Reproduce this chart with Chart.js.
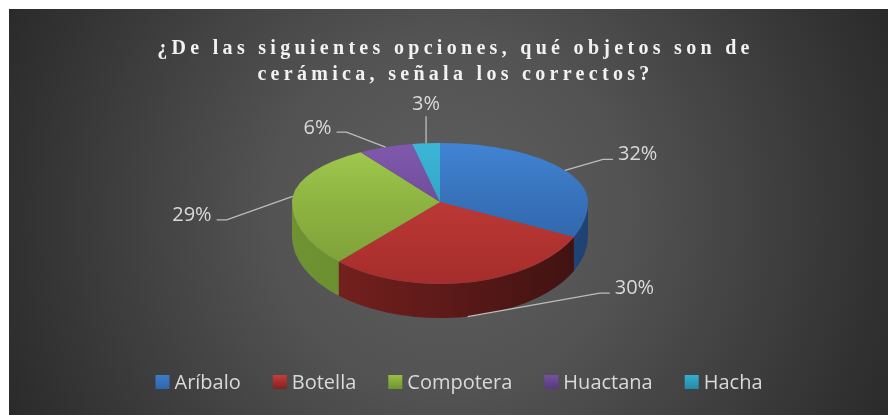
<!DOCTYPE html>
<html><head><meta charset="utf-8">
<script src="https://cdn.jsdelivr.net/npm/chart.js@4"></script>
<style>html,body{margin:0;padding:0;background:#fff;overflow:hidden}#wrap{position:absolute;left:0;top:0;width:888px;height:415px}</style>
</head><body><div id="wrap"><canvas id="c" width="888" height="415"></canvas></div>
<script>
// ---- data ----
const categories = ['Aríbalo', 'Botella', 'Compotera', 'Huactana', 'Hacha'];
const percentages = [32, 30, 29, 6, 3];
const titleLines = ['¿De las siguientes opciones, qué objetos son de', 'cerámica, señala los correctos?'];

// ---- styles ----
const topColors = [['#4184d4', '#2c5e9f'], ['#d2433f', '#a52d2b'], ['#a2cb4e', '#7a9c36'], ['#8059ad', '#62408a'], ['#3cb6d8', '#2a93b4']];
const sideColors = [['#2f66ac', '#1f4274'], ['#7e2220', '#3d1211'], ['#6f9332', '#5e7e2a'], ['#553a78', '#3e2a58'], ['#238aa8', '#1b6a82']];
const legendColors = ['#3d7cc9', '#c93c39', '#98c047', '#7651a3', '#37aed0'];
const TILT_BACK = 59 / 148;   // vertical squash of the far half of the pie top
const TILT_FRONT = 82 / 148;  // vertical squash of the near half (fake perspective)
const DEPTH = 34;             // thickness of the pie
// label leader offsets from slice anchor: [dx, dy, side]
const labelLayout = [[48, -11, 'r'], [142, -23.5, 'r'], [-76, 23.5, 'l'], [-49, -15, 'l'], [0, -27, 't']];

const bgPlugin = {
  id: 'bg',
  beforeDraw(chart) {
    const ctx = chart.ctx;
    ctx.save();
    ctx.fillStyle = '#ffffff';
    ctx.fillRect(0, 0, chart.width, chart.height);
    const g = ctx.createRadialGradient(448, 212, 0, 448, 212, 500);
    g.addColorStop(0, '#5e5e5e');
    g.addColorStop(0.35, '#535353');
    g.addColorStop(1, '#282828');
    ctx.fillStyle = g;
    ctx.fillRect(9, 9, chart.width - 9, chart.height - 9);
    ctx.restore();
  }
};

function squash(ctx, cx, cy, k) {
  ctx.translate(cx, cy);
  ctx.scale(1, k);
  ctx.translate(-cx, -cy);
}

const pie3d = {
  id: 'pie3d',
  beforeDatasetsDraw(chart) {
    const ctx = chart.ctx;
    const meta = chart.getDatasetMeta(0);
    const a0 = meta.data[0];
    const cx = a0.x, cy = a0.y, R = a0.outerRadius, ry = R * TILT_FRONT;
    meta.data.forEach((arc, i) => {
      for (const off of [0, 2 * Math.PI]) {
        const a = Math.max(arc.startAngle, off), b = Math.min(arc.endAngle, Math.PI + off);
        if (b > a) {
          ctx.beginPath();
          ctx.ellipse(cx, cy, R, ry, 0, a, b);
          ctx.ellipse(cx, cy + DEPTH, R, ry, 0, b, a, true);
          ctx.closePath();
          const g = ctx.createLinearGradient(cx - R, 0, cx + R, 0);
          g.addColorStop(0, sideColors[i][0]);
          g.addColorStop(1, sideColors[i][1]);
          ctx.fillStyle = g;
          ctx.fill();
        }
      }
    });
    // far half of the top face (drawn by the library right after this hook)
    ctx.save();
    ctx.beginPath();
    ctx.rect(0, 0, chart.width, cy + 1);
    ctx.clip();
    squash(ctx, cx, cy, TILT_BACK);
  },
  afterDatasetsDraw(chart) {
    const ctx = chart.ctx;
    ctx.restore();
    const meta = chart.getDatasetMeta(0);
    const a0 = meta.data[0];
    const cx = a0.x, cy = a0.y;
    // near half of the top face
    ctx.save();
    ctx.beginPath();
    ctx.rect(0, cy, chart.width, chart.height - cy);
    ctx.clip();
    squash(ctx, cx, cy, TILT_FRONT);
    meta.controller.draw();
    ctx.restore();
  }
};

const labelPlugin = {
  id: 'labels3d',
  afterDraw(chart) {
    const ctx = chart.ctx;
    const meta = chart.getDatasetMeta(0);
    const data = chart.data.datasets[0].data;
    const total = data.reduce((s, v) => s + v, 0);
    ctx.save();
    ctx.font = '20px "Open Sans"';
    ctx.fillStyle = '#d9d9d9';
    ctx.strokeStyle = '#bdbdbd';
    ctx.lineWidth = 1.3;
    meta.data.forEach((arc, i) => {
      const m = (arc.startAngle + arc.endAngle) / 2;
      const R = arc.outerRadius;
      const front = Math.sin(m) > 0;
      const ry = R * (front ? TILT_FRONT : TILT_BACK);
      const ax = arc.x + R * Math.cos(m);
      const ay = arc.y + ry * Math.sin(m) + (front ? DEPTH : 0);
      const [dx, dy, side] = labelLayout[i];
      const px = ax + dx, py = ay + dy;
      ctx.beginPath();
      ctx.moveTo(ax, ay);
      if (side === 'r') ctx.lineTo(px - 10, py);
      else if (side === 'l') ctx.lineTo(px + 10, py);
      ctx.lineTo(px, py);
      ctx.stroke();
      const txt = Math.round(data[i] / total * 100) + '%';
      if (side === 'r') { ctx.textAlign = 'left'; ctx.fillText(txt, px + 5, py + 1); }
      else if (side === 'l') { ctx.textAlign = 'right'; ctx.fillText(txt, px - 5, py + 1.5); }
      else { ctx.textAlign = 'center'; ctx.fillText(txt, px, py - 6); }
    });
    ctx.restore();
  }
};

const titlePlugin = {
  id: 'titleSerif',
  afterDraw(chart) {
    const ctx = chart.ctx;
    ctx.save();
    ctx.font = 'bold 20px "Liberation Serif"';
    ctx.letterSpacing = '4.3px';
    ctx.fillStyle = '#f2f2f2';
    ctx.textAlign = 'center';
    ctx.fillText(titleLines[0], 455.5, 54);
    ctx.fillText(titleLines[1], 455.5, 80);
    ctx.restore();
  }
};

const legendPlugin = {
  id: 'legendBox',
  afterDraw(chart) {
    const ctx = chart.ctx;
    ctx.save();
    ctx.font = '20px "Open Sans"';
    const box = 14, gap = 5, spacing = 32;
    const widths = chart.data.labels.map(l => ctx.measureText(l).width);
    const total = widths.reduce((s, w) => s + box + gap + w, 0) + spacing * (widths.length - 1);
    let x = 459 - total / 2;
    const base = 389;
    chart.data.labels.forEach((l, i) => {
      const g = ctx.createLinearGradient(0, base - 14, 0, base);
      g.addColorStop(0, legendColors[i]);
      g.addColorStop(1, sideColors[i][0]);
      ctx.fillStyle = g;
      ctx.fillRect(x, base - 14, box, box);
      ctx.fillStyle = '#d9d9d9';
      ctx.textAlign = 'left';
      ctx.fillText(l, x + box + gap, base);
      x += box + gap + widths[i] + spacing;
    });
    ctx.restore();
  }
};

new Chart(document.getElementById('c'), {
  type: 'pie',
  data: {
    labels: categories,
    datasets: [{
      data: percentages,
      clip: false,
      borderWidth: 0,
      hoverBorderWidth: 0,
      backgroundColor(c) {
        const chart = c.chart, area = chart.chartArea;
        const i = c.dataIndex;
        if (!area || i === undefined) return topColors[0][0];
        const cy = (area.top + area.bottom) / 2, R = (area.bottom - area.top) / 2;
        const g = chart.ctx.createLinearGradient(0, cy - R, 0, cy + R);
        g.addColorStop(0, topColors[i][0]);
        g.addColorStop(1, topColors[i][1]);
        return g;
      }
    }]
  },
  options: {
    responsive: false,
    animation: false,
    events: [],
    layout: { padding: { left: 100, right: 108, top: 54, bottom: 65 } },
    plugins: { legend: { display: false }, tooltip: { enabled: false }, title: { display: false } }
  },
  plugins: [bgPlugin, pie3d, labelPlugin, titlePlugin, legendPlugin]
});
</script>
</body></html>
